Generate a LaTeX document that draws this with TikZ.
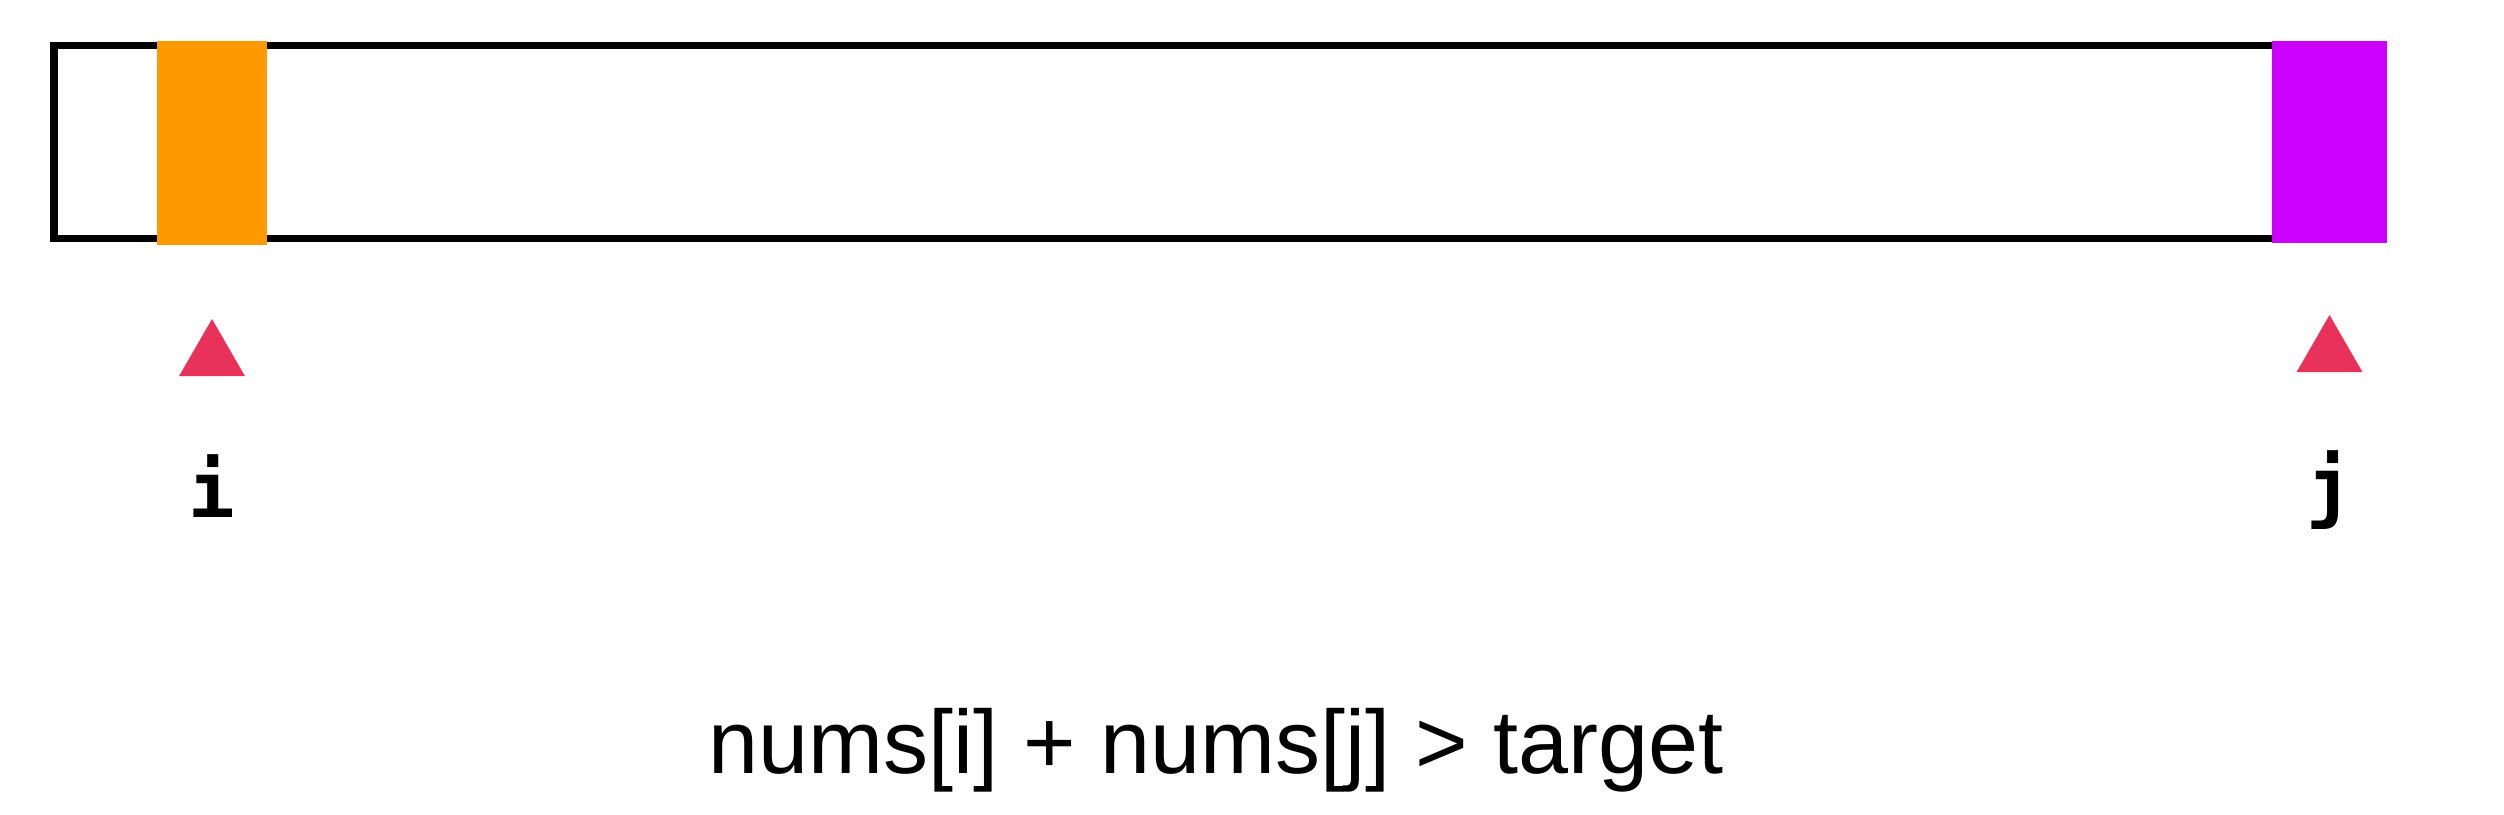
\documentclass[tikz,border=0pt]{standalone}
\usepackage{fontspec}
\setmainfont{Liberation Sans}
\newfontfamily\idxfont{DejaVu Sans Mono}
\usetikzlibrary{positioning,shapes.geometric}
\definecolor{iorange}{HTML}{FF9900}
\definecolor{jpurple}{HTML}{CC00FF}
\definecolor{ptrred}{HTML}{E8325A}
\tikzset{
  cellbox/.style={rectangle, inner sep=0, outer sep=0, anchor=north west},
  ptrmark/.style={regular polygon, regular polygon sides=3, fill=ptrred,
    minimum size=0.76cm, inner sep=0, outer sep=0},
  idxlabel/.style={inner sep=0, font=\idxfont\bfseries\fontsize{22}{26}\selectfont},
}
\begin{document}
\begin{tikzpicture}
  \useasboundingbox (0,0) rectangle (25.04,-8.14);
  \node(A) [cellbox, draw, fill=white, line width=0.07cm, minimum width=23.29cm, minimum height=1.93cm] at (0.54,-0.455) {};
  \node(Ci) [cellbox, fill=iorange, minimum width=1.10cm, minimum height=2.04cm] at (1.57,-0.41) {};
  \node(Cj) [cellbox, fill=jpurple, minimum width=1.15cm, minimum height=2.02cm] at (22.72,-0.41) {};
  \node(Pi) [ptrmark, below=0.74cm of Ci] {};
  \node(Pj) [ptrmark, below=0.72cm of Cj] {};
  \node(Li) [idxlabel, below=0.78cm of Pi] {i};
  \node(Lj) [idxlabel, below=0.78cm of Pj] {j};
  \node(T) [anchor=base, inner sep=0, font=\fontsize{25.6}{30}\selectfont] at (12.16,-7.73) {nums[i] + nums[j] > target};
\end{tikzpicture}
\end{document}
